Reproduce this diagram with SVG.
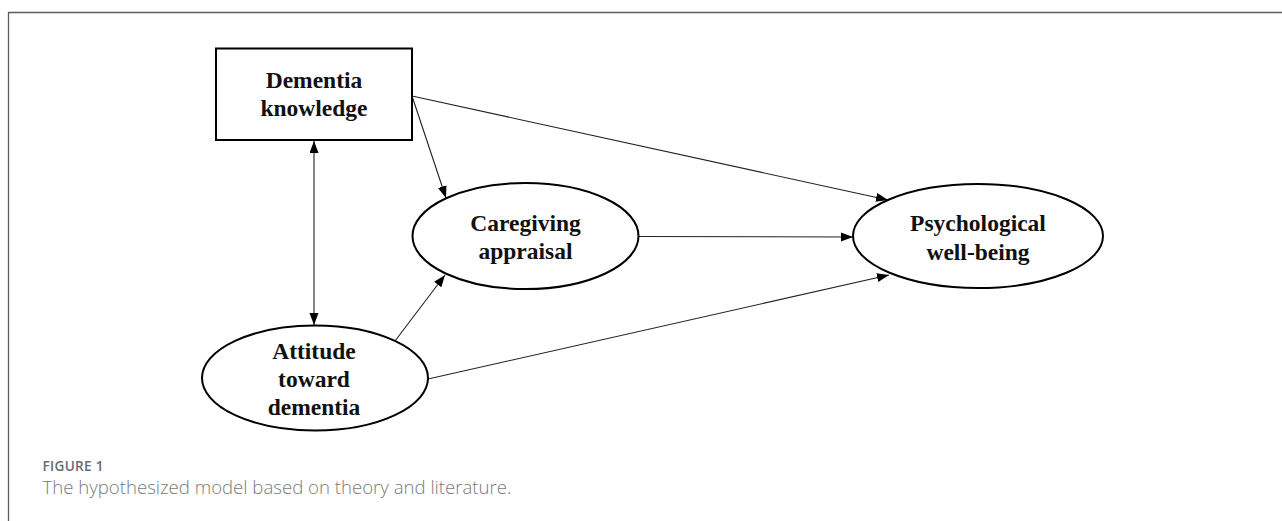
<svg xmlns="http://www.w3.org/2000/svg" width="1282" height="521" viewBox="0 0 1282 521">
  <style>
    .frame { fill: none; stroke: #5c5c5c; stroke-width: 1.3; }
    .node { fill: #ffffff; stroke: #000000; stroke-width: 2; }
    .lbl { font-family: "Liberation Serif", "Times New Roman", serif; font-weight: bold; font-size: 23.5px; fill: #111111; text-anchor: middle; }
    .conn { stroke: #222222; stroke-width: 1.1; fill: none; }
    .cap1 { font-family: "Open Sans", "Noto Sans", sans-serif; font-weight: 600; font-size: 13.6px; fill: #6a6a6a; letter-spacing: 0.3px; }
    .cap2 { font-family: "Open Sans", "Noto Sans", sans-serif; font-weight: 300; font-size: 18.6px; fill: #7a7a7a; }
  </style>
  <defs>
    <marker id="arr" markerUnits="userSpaceOnUse" markerWidth="13" markerHeight="10" refX="12" refY="4.5" orient="auto-start-reverse">
      <path d="M0,0 L12,4.5 L0,9 z" fill="#000000"/>
    </marker>
  </defs>
  <rect width="1282" height="521" fill="#ffffff"/>
  <path class="frame" d="M8.5,521 L8.5,12.5 L1282,12.5"/>

  <g id="connectors">
    <line class="conn" x1="314" y1="141" x2="314" y2="325" marker-start="url(#arr)" marker-end="url(#arr)"/>
    <line class="conn" x1="412" y1="96" x2="446" y2="198" marker-end="url(#arr)"/>
    <line class="conn" x1="412" y1="96" x2="888" y2="200" marker-end="url(#arr)"/>
    <line class="conn" x1="638" y1="236.5" x2="853" y2="237" marker-end="url(#arr)"/>
    <line class="conn" x1="395" y1="341" x2="445" y2="275" marker-end="url(#arr)"/>
    <line class="conn" x1="428" y1="379" x2="889" y2="275" marker-end="url(#arr)"/>
  </g>

  <g id="dementia-knowledge">
    <rect class="node" x="216" y="48.5" width="196" height="91.5"/>
    <text class="lbl" x="314" y="88">Dementia</text>
    <text class="lbl" x="314" y="116">knowledge</text>
  </g>

  <g id="caregiving-appraisal">
    <ellipse class="node" cx="525.5" cy="236" rx="113" ry="53"/>
    <text class="lbl" x="525.5" y="231">Caregiving</text>
    <text class="lbl" x="525.5" y="259">appraisal</text>
  </g>

  <g id="psychological-well-being">
    <ellipse class="node" cx="978" cy="236" rx="125" ry="52"/>
    <text class="lbl" x="978" y="231">Psychological</text>
    <text class="lbl" x="978" y="260">well-being</text>
  </g>

  <g id="attitude-toward-dementia">
    <ellipse class="node" cx="315" cy="378" rx="113" ry="52.5"/>
    <text class="lbl" x="314" y="359">Attitude</text>
    <text class="lbl" x="314" y="387">toward</text>
    <text class="lbl" x="314" y="415">dementia</text>
  </g>

  <g id="caption">
    <text class="cap1" x="42.5" y="470.5">FIGURE 1</text>
    <text class="cap2" x="42.5" y="493.5">The hypothesized model based on theory and literature.</text>
  </g>
</svg>
